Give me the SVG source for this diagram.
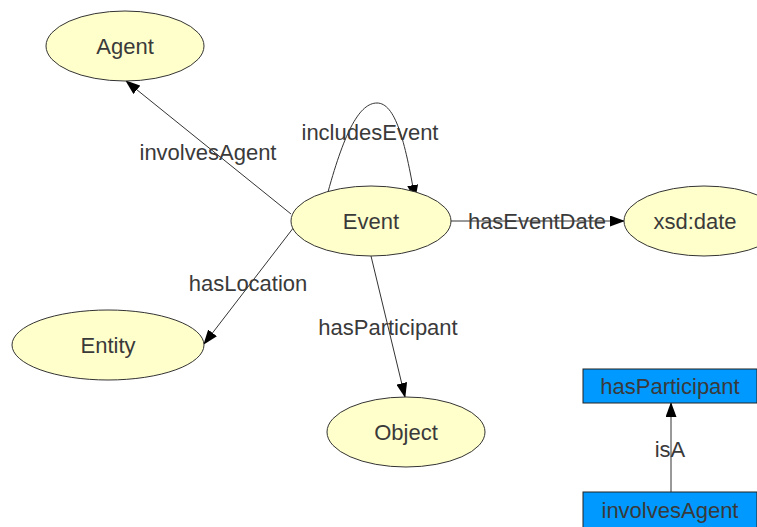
<svg xmlns="http://www.w3.org/2000/svg" width="757" height="527" viewBox="0 0 757 527">
<defs>
<style>
text{font-family:"Liberation Sans",Arial,sans-serif;font-size:22px;fill:#3a3a3a;text-anchor:middle;dominant-baseline:central}
.node ellipse{fill:#ffffcc;stroke:#333;stroke-width:1}
.box rect{fill:#0099ff;stroke:#222;stroke-width:1}
.edge{fill:none;stroke:#333;stroke-width:1}
</style>
<marker id="arr" markerWidth="15" markerHeight="11" refX="14" refY="5.5" orient="auto" markerUnits="userSpaceOnUse">
<path d="M0,0 L15,5.5 L0,11 Z" fill="#000"/>
</marker>
</defs>
<rect width="757" height="527" fill="#fff"/>
<g id="connectors">
<path class="edge" d="M291,214 L126,81" marker-end="url(#arr)"/>
<path class="edge" d="M328,192 C345,130 360,103 377,103 C395,103 405,140 415,199" marker-end="url(#arr)"/>
<path class="edge" d="M451,221 L624,221" marker-end="url(#arr)"/>
<path class="edge" d="M294,227 L204,344" marker-end="url(#arr)"/>
<path class="edge" d="M371,256 L405,397" marker-end="url(#arr)"/>
<path class="edge" d="M671,492 L671,403" marker-end="url(#arr)"/>
<text x="208" y="152">involvesAgent</text>
<text x="370" y="132">includesEvent</text>
<text x="537" y="221">hasEventDate</text>
<text x="248" y="283">hasLocation</text>
<text x="388" y="327">hasParticipant</text>
<text x="670" y="449">isA</text>
</g>
<g id="Agent" class="node"><ellipse cx="125" cy="46" rx="79" ry="35"/><text x="125" y="46">Agent</text></g>
<g id="Event" class="node"><ellipse cx="371" cy="221" rx="80" ry="35"/><text x="371" y="221">Event</text></g>
<g id="xsd_date" class="node"><ellipse cx="704" cy="221" rx="80" ry="35"/><text x="695" y="221">xsd:date</text></g>
<g id="Entity" class="node"><ellipse cx="108" cy="345" rx="96" ry="35"/><text x="108" y="345">Entity</text></g>
<g id="Object" class="node"><ellipse cx="406" cy="432" rx="79" ry="35"/><text x="406" y="432">Object</text></g>
<g id="hasParticipant" class="box"><rect x="583" y="369" width="174" height="34"/><text x="670" y="386">hasParticipant</text></g>
<g id="involvesAgent" class="box"><rect x="583" y="492" width="174" height="40"/><text x="670" y="510">involvesAgent</text></g>
</svg>
